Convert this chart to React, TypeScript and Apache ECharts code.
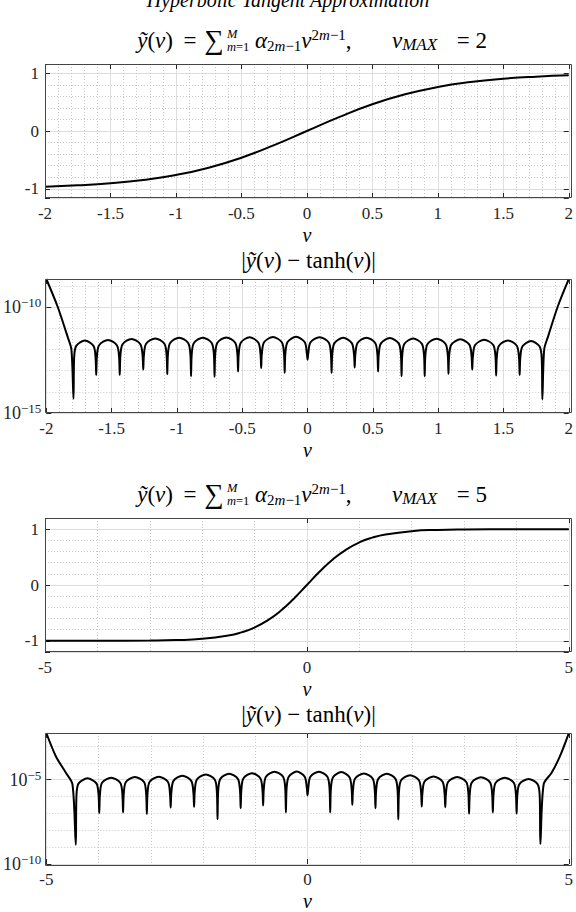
import React, { useEffect, useRef } from 'react';
import * as echarts from 'echarts';

// ---------------- data ----------------
const FIG_TITLE = 'Hyperbolic Tangent Approximation';
const VMAX = [2, 5];

// fitted polynomial y~(v), vMAX = 2
const V_FIT2 = [-2, -1.75, -1.5, -1.25, -1, -0.75, -0.5, -0.25, 0, 0.25, 0.5, 0.75, 1, 1.25, 1.5, 1.75, 2];
const Y_FIT2 = [-0.964, -0.941, -0.905, -0.848, -0.762, -0.635, -0.462, -0.245, 0, 0.245, 0.462, 0.635, 0.762, 0.848, 0.905, 0.941, 0.964];

// fitted polynomial y~(v), vMAX = 5
const V_FIT5 = [-5, -4, -3, -2.5, -2, -1.5, -1.25, -1, -0.75, -0.5, -0.25, 0, 0.25, 0.5, 0.75, 1, 1.25, 1.5, 2, 2.5, 3, 4, 5];
const Y_FIT5 = [-1.0, -0.999, -0.995, -0.987, -0.964, -0.905, -0.848, -0.762, -0.635, -0.462, -0.245, 0, 0.245, 0.462, 0.635, 0.762, 0.848, 0.905, 0.964, 0.987, 0.995, 0.999, 1.0];

// |y~(v) - tanh(v)|, vMAX = 2 : [v, log10(error)]
const ERR2: [number, number][] = [
  [-2.000, -8.67], [-1.914, -9.97], [-1.838, -11.38], [-1.808, -12.00], [-1.792, -14.33],
  [-1.787, -12.38], [-1.771, -11.83], [-1.705, -11.58], [-1.639, -11.83], [-1.623, -12.38], [-1.618, -13.20],
  [-1.613, -12.35], [-1.596, -11.80], [-1.528, -11.55], [-1.460, -11.80], [-1.443, -12.35], [-1.438, -13.20],
  [-1.433, -12.30], [-1.416, -11.75], [-1.348, -11.50], [-1.280, -11.75], [-1.263, -12.30], [-1.258, -12.95],
  [-1.253, -12.28], [-1.236, -11.73], [-1.166, -11.48], [-1.096, -11.73], [-1.079, -12.28], [-1.074, -13.17],
  [-1.069, -12.24], [-1.052, -11.69], [-0.983, -11.44], [-0.914, -11.69], [-0.897, -12.24], [-0.892, -13.26],
  [-0.887, -12.24], [-0.870, -11.69], [-0.802, -11.44], [-0.734, -11.69], [-0.717, -12.24], [-0.712, -13.29],
  [-0.707, -12.23], [-0.690, -11.68], [-0.622, -11.43], [-0.554, -11.68], [-0.537, -12.23], [-0.532, -13.04],
  [-0.527, -12.22], [-0.510, -11.67], [-0.444, -11.42], [-0.377, -11.67], [-0.360, -12.22], [-0.355, -12.88],
  [-0.350, -12.21], [-0.333, -11.66], [-0.265, -11.41], [-0.197, -11.66], [-0.180, -12.21], [-0.175, -13.10],
  [-0.170, -12.20], [-0.153, -11.65], [-0.088, -11.40], [-0.022, -11.65], [-0.005, -12.20], [0.000, -12.48],
  [0.005, -12.22], [0.022, -11.67], [0.092, -11.42], [0.162, -11.67], [0.179, -12.22], [0.184, -13.10],
  [0.189, -12.25], [0.206, -11.70], [0.273, -11.45], [0.339, -11.70], [0.356, -12.25], [0.361, -12.85],
  [0.366, -12.24], [0.383, -11.69], [0.451, -11.44], [0.518, -11.69], [0.535, -12.24], [0.540, -13.04],
  [0.545, -12.26], [0.562, -11.71], [0.630, -11.46], [0.698, -11.71], [0.715, -12.26], [0.720, -13.26],
  [0.725, -12.28], [0.742, -11.73], [0.809, -11.48], [0.875, -11.73], [0.892, -12.28], [0.897, -13.26],
  [0.902, -12.29], [0.919, -11.74], [0.988, -11.49], [1.057, -11.74], [1.074, -12.29], [1.079, -13.15],
  [1.084, -12.32], [1.101, -11.77], [1.170, -11.52], [1.239, -11.77], [1.256, -12.32], [1.261, -12.95],
  [1.266, -12.34], [1.283, -11.79], [1.353, -11.54], [1.422, -11.79], [1.439, -12.34], [1.444, -13.23],
  [1.449, -12.37], [1.466, -11.82], [1.534, -11.57], [1.602, -11.82], [1.619, -12.37], [1.624, -13.20],
  [1.629, -12.40], [1.646, -11.85], [1.711, -11.60], [1.776, -11.85], [1.793, -12.40], [1.798, -14.36],
  [1.812, -12.00], [1.842, -11.38], [1.916, -9.97], [2.000, -8.68],
];

// |y~(v) - tanh(v)|, vMAX = 5 : [v, log10(error)]
const ERR5: [number, number][] = [
  [-5.000, -2.23], [-4.816, -3.62], [-4.626, -4.59], [-4.500, -5.27], [-4.436, -8.86],
  [-4.423, -5.92], [-4.382, -5.22], [-4.212, -4.92], [-4.041, -5.22], [-4.000, -5.92], [-3.987, -6.98],
  [-3.974, -5.88], [-3.933, -5.18], [-3.759, -4.88], [-3.585, -5.18], [-3.544, -5.88], [-3.531, -6.94],
  [-3.518, -5.84], [-3.477, -5.14], [-3.304, -4.84], [-3.130, -5.14], [-3.089, -5.84], [-3.076, -7.03],
  [-3.063, -5.82], [-3.022, -5.12], [-2.848, -4.82], [-2.674, -5.12], [-2.633, -5.82], [-2.620, -6.65],
  [-2.607, -5.77], [-2.566, -5.07], [-2.396, -4.77], [-2.226, -5.07], [-2.185, -5.77], [-2.172, -6.61],
  [-2.159, -5.69], [-2.118, -4.99], [-1.948, -4.69], [-1.777, -4.99], [-1.736, -5.69], [-1.723, -7.35],
  [-1.710, -5.65], [-1.669, -4.95], [-1.502, -4.65], [-1.334, -4.95], [-1.293, -5.65], [-1.280, -6.69],
  [-1.267, -5.61], [-1.226, -4.91], [-1.065, -4.61], [-0.904, -4.91], [-0.863, -5.61], [-0.850, -6.53],
  [-0.837, -5.53], [-0.796, -4.83], [-0.632, -4.53], [-0.468, -4.83], [-0.427, -5.53], [-0.414, -6.94],
  [-0.401, -5.52], [-0.360, -4.82], [-0.207, -4.52], [-0.054, -4.82], [-0.013, -5.52], [0.000, -5.93],
  [0.013, -5.53], [0.054, -4.83], [0.217, -4.53], [0.380, -4.83], [0.421, -5.53], [0.434, -6.94],
  [0.447, -5.55], [0.488, -4.85], [0.646, -4.55], [0.803, -4.85], [0.844, -5.55], [0.857, -6.49],
  [0.870, -5.63], [0.911, -4.93], [1.079, -4.63], [1.246, -4.93], [1.287, -5.63], [1.300, -6.69],
  [1.313, -5.65], [1.354, -4.95], [1.519, -4.65], [1.683, -4.95], [1.724, -5.65], [1.737, -7.36],
  [1.750, -5.73], [1.791, -5.03], [1.962, -4.73], [2.132, -5.03], [2.173, -5.73], [2.186, -6.59],
  [2.199, -5.81], [2.240, -5.11], [2.411, -4.81], [2.582, -5.11], [2.623, -5.81], [2.636, -6.63],
  [2.649, -5.84], [2.690, -5.14], [2.864, -4.84], [3.038, -5.14], [3.079, -5.84], [3.092, -7.02],
  [3.105, -5.86], [3.146, -5.16], [3.320, -4.86], [3.493, -5.16], [3.534, -5.86], [3.547, -6.94],
  [3.560, -5.88], [3.601, -5.18], [3.775, -4.88], [3.948, -5.18], [3.989, -5.88], [4.002, -7.00],
  [4.015, -5.96], [4.056, -5.26], [4.230, -4.96], [4.403, -5.26], [4.444, -5.96], [4.457, -8.82],
  [4.520, -5.27], [4.672, -4.59], [4.830, -3.62], [5.000, -2.25],
];

// axis ranges and tick labels
const X_RANGE2 = [-2, 2];
const X_STEP2 = 0.5;
const X_RANGE5 = [-5, 5];
const X_STEP5 = 5;
const Y_TICKS_FIT = [-1, 0, 1];
const Y_RANGE_FIT2 = [-1.16, 1.16];
const Y_RANGE_FIT5 = [-1.2, 1.2];
const LOG_RANGE2 = [-15, -8.67];
const LOG_TICKS2 = [-15, -10];
const LOG_RANGE5 = [-10, -2.23];
const LOG_TICKS5 = [-10, -5];

// ---------------- layout / style ----------------
const FF = "'Liberation Serif', 'Times New Roman', serif";
const GL = 45;
const GW = 527;
const GT = [64, 279, 518, 733];
const GH = [134, 134, 134, 133];
const CX = GL + GW / 2;
const TXT = '#262626';
const MAJOR = '#dedede';
const MINOR = '#c9c9c9';
const TICK_FS = 17;

const near = (a: number, b: number) => Math.abs(a - b) < 1e-6;

const NO_LINE = { show: false, onZero: false };
const TICK = { show: true, inside: true, length: 5, lineStyle: { color: TXT, width: 1 } };

function bottomX(gi: number, range: number[], step: number) {
  return {
    type: 'value', gridIndex: gi, position: 'bottom', min: range[0], max: range[1], interval: step,
    axisLine: NO_LINE, axisTick: TICK,
    axisLabel: { margin: 7, fontFamily: FF, fontSize: TICK_FS, color: TXT, formatter: (v: number) => String(v) },
    splitLine: { show: true, lineStyle: { color: MAJOR, width: 1 } },
    minorTick: { show: false, splitNumber: 5 },
    minorSplitLine: { show: true, lineStyle: { color: MINOR, width: 1, type: [1, 2] } },
    name: 'v', nameLocation: 'middle', nameGap: 27,
    nameTextStyle: { fontFamily: FF, fontStyle: 'italic', fontSize: 20, color: '#000' },
  };
}
function topX(gi: number, range: number[], step: number) {
  return {
    type: 'value', gridIndex: gi, position: 'top', min: range[0], max: range[1], interval: step,
    axisLine: NO_LINE, axisTick: TICK,
    axisLabel: { show: false }, splitLine: { show: false },
  };
}
function fitY(gi: number, range: number[], pos: string) {
  return {
    type: 'value', gridIndex: gi, position: pos, min: range[0], max: range[1], splitNumber: 2,
    axisLine: NO_LINE, axisTick: TICK,
    axisLabel: {
      show: pos === 'left', margin: 6, fontFamily: FF, fontSize: TICK_FS, color: TXT,
      formatter: (v: number) => (Y_TICKS_FIT.some((t) => near(t, v)) ? String(Math.round(v)) : ''),
    },
    splitLine: { show: pos === 'left', lineStyle: { color: MAJOR, width: 1 } },
    minorTick: { show: false, splitNumber: 5 },
    minorSplitLine: { show: pos === 'left', lineStyle: { color: MINOR, width: 1, type: [1, 2] } },
  };
}
function logY(gi: number, range: number[], ticks: number[], pos: string) {
  return {
    type: 'value', gridIndex: gi, position: pos, min: range[0], max: range[1], interval: 5,
    axisLine: NO_LINE, axisTick: TICK,
    axisLabel: {
      show: pos === 'left', margin: 5, fontFamily: FF, fontSize: TICK_FS, color: TXT,
      formatter: (v: number) => {
        const t = ticks.find((k) => near(k, v));
        return t === undefined ? '' : `{b|10}{s|\u2212${Math.abs(t)}}`;
      },
      rich: {
        b: { fontFamily: FF, fontSize: 18, color: TXT, lineHeight: 22, verticalAlign: 'middle' },
        s: { fontFamily: FF, fontSize: 13, color: TXT, lineHeight: 11, verticalAlign: 'top' },
      },
    },
    splitLine: { show: pos === 'left', lineStyle: { color: MAJOR, width: 1 } },
    minorTick: { show: false, splitNumber: 5 },
    minorSplitLine: { show: pos === 'left', lineStyle: { color: MINOR, width: 1, type: [1, 2] } },
  };
}

const BLK = { fill: '#000', color: '#000', fontFamily: FF };
const RICH = {
  r: { ...BLK, fontSize: 23, lineHeight: 26 },
  i: { ...BLK, fontSize: 23, fontStyle: 'italic', lineHeight: 26 },
  big: { ...BLK, fontSize: 27, lineHeight: 26 },
  s: { ...BLK, fontSize: 15, lineHeight: 15, verticalAlign: 'bottom' },
  si: { ...BLK, fontSize: 15, fontStyle: 'italic', lineHeight: 15, verticalAlign: 'bottom' },
  sim: { ...BLK, fontSize: 17, fontStyle: 'italic', lineHeight: 15, verticalAlign: 'bottom' },
  p: { ...BLK, fontSize: 15, lineHeight: 15, verticalAlign: 'top' },
  pi: { ...BLK, fontSize: 15, fontStyle: 'italic', lineHeight: 15, verticalAlign: 'top' },
  lim: { ...BLK, fontSize: 12.5, lineHeight: 13 },
  limi: { ...BLK, fontSize: 12.5, fontStyle: 'italic', lineHeight: 13 },
};

function txt(x: number, y: number, text: string, align: string) {
  return {
    type: 'text', silent: true, z: 120,
    style: { x, y, text, align, verticalAlign: 'middle', rich: RICH, fill: '#000', fontFamily: FF, fontSize: 23 },
  };
}

function sumTitle(cy: number, vmax: number) {
  return [
    txt(173, cy, '{i|ỹ}{r|(}{i|v}{r|)}', 'right'),
    txt(190, cy, '{r|=}', 'center'),
    txt(214, cy, '{big|∑}', 'center'),
    txt(227, cy - 6.5, '{limi|M}', 'left'),
    txt(227, cy + 6.5, '{limi|m}{lim|=1}', 'left'),
    txt(255, cy, '{i|α}{s|2}{si|m}{s|\u22121}{i|v}{p|2}{pi|m}{p|\u22121}{r|,}', 'left'),
    txt(392, cy, '{i|v}{sim|MAX}', 'left'),
    txt(487, cy, '{r|= ' + vmax + '}', 'right'),
  ];
}
function errTitle(cy: number) {
  return [txt(CX, cy, '{r||}{i|ỹ}{r|(}{i|v}{r|) \u2212 tanh(}{i|v}{r|)|}', 'center')];
}

function boxes() {
  return GT.map((t, i) => ({
    type: 'rect', silent: true, z: 110,
    shape: { x: GL + 0.5, y: t + 0.5, width: GW - 1, height: GH[i] - 1 },
    style: { fill: 'none', stroke: '#454545', lineWidth: 1 },
  }));
}

function lineSeries(idx: number, data: number[][], smooth: number | boolean) {
  return {
    type: 'line', xAxisIndex: idx, yAxisIndex: idx, data, smooth, showSymbol: false, symbol: 'none',
    lineStyle: { color: '#000', width: 2 }, z: 5, clip: true, animation: false,
  };
}

export default function App() {
  const ref = useRef<HTMLDivElement>(null);
  useEffect(() => {
    if (!ref.current) return;
    const chart = echarts.init(ref.current, undefined, { renderer: 'svg' });
    const grids = GT.map((t, i) => ({ left: GL, top: t, width: GW, height: GH[i], containLabel: false }));
    chart.setOption({
      animation: false,
      backgroundColor: '#fff',
      grid: grids,
      xAxis: [
        bottomX(0, X_RANGE2, X_STEP2),
        bottomX(1, X_RANGE2, X_STEP2),
        bottomX(2, X_RANGE5, X_STEP5),
        bottomX(3, X_RANGE5, X_STEP5),
        topX(0, X_RANGE2, X_STEP2),
        topX(1, X_RANGE2, X_STEP2),
        topX(2, X_RANGE5, X_STEP5),
        topX(3, X_RANGE5, X_STEP5),
      ],
      yAxis: [
        fitY(0, Y_RANGE_FIT2, 'left'),
        logY(1, LOG_RANGE2, LOG_TICKS2, 'left'),
        fitY(2, Y_RANGE_FIT5, 'left'),
        logY(3, LOG_RANGE5, LOG_TICKS5, 'left'),
        fitY(0, Y_RANGE_FIT2, 'right'),
        logY(1, LOG_RANGE2, LOG_TICKS2, 'right'),
        fitY(2, Y_RANGE_FIT5, 'right'),
        logY(3, LOG_RANGE5, LOG_TICKS5, 'right'),
      ],
      series: [
        lineSeries(0, V_FIT2.map((v, i) => [v, Y_FIT2[i]]), true),
        lineSeries(1, ERR2, 0.3),
        lineSeries(2, V_FIT5.map((v, i) => [v, Y_FIT5[i]]), true),
        lineSeries(3, ERR5, 0.3),
      ],
      graphic: [
        {
          type: 'text', silent: true, z: 120,
          style: {
            x: 288, y: 0, text: FIG_TITLE, align: 'center', verticalAlign: 'middle',
            fontFamily: FF, fontStyle: 'italic', fontSize: 20, fill: '#000',
          },
        },
        ...sumTitle(40, VMAX[0]),
        ...errTitle(260),
        ...sumTitle(494, VMAX[1]),
        ...errTitle(714),
        ...boxes(),
      ],
    });
    return () => chart.dispose();
  }, []);
  return <div ref={ref} style={{ position: 'absolute', left: 0, top: 0, width: 576, height: 912 }} />;
}
